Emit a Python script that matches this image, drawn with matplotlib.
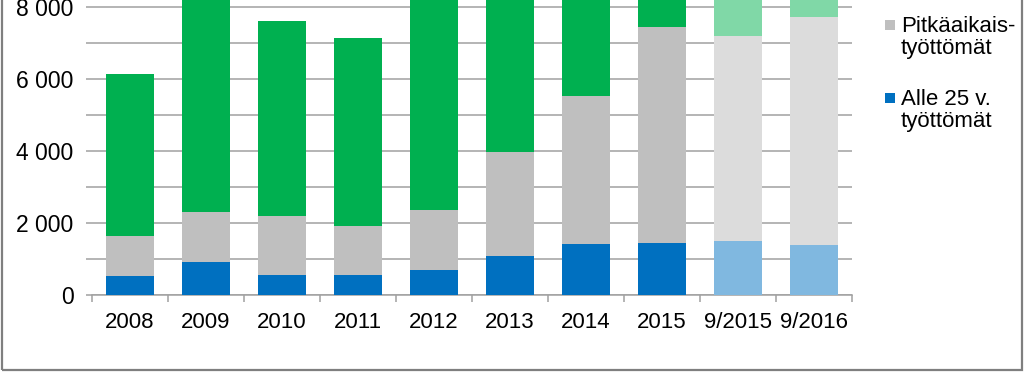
import matplotlib
matplotlib.use('Agg')
import matplotlib.pyplot as plt
from matplotlib.patches import Rectangle
from matplotlib.ticker import FuncFormatter, MultipleLocator
import numpy as np

# --- data (top of the chart is cropped) ---
categories = ['2008', '2009', '2010', '2011', '2012', '2013', '2014', '2015', '9/2015', '9/2016']
tyottomat = [6140, 9000, 7620, 7160, 8600, 10000, 11000, 11800, 10900, 10300]   # green, mostly cut off
pitkaaikais = [1660, 2320, 2190, 1930, 2360, 3970, 5550, 7450, 7200, 7730]
alle25 = [545, 935, 565, 570, 695, 1085, 1415, 1455, 1510, 1400]

# full colours for yearly values, light ones for the September figures
GREEN = ['#00B050'] * 8 + ['#80D8A7'] * 2
GRAY = ['#BFBFBF'] * 8 + ['#DCDCDC'] * 2
BLUE = ['#0070C0'] * 8 + ['#80B8E0'] * 2
GRID = '#A0A0A0'

plt.rcParams['font.family'] = ['Liberation Sans', 'DejaVu Sans']

fig = plt.figure(figsize=(10.24, 3.72), dpi=100)
ax = fig.add_axes([92 / 1024, 1 - 295.3 / 372, (852 - 92) / 1024, 295.3 / 372])

x = np.arange(len(categories))
w = 0.62
ax.bar(x, tyottomat, width=w, color=GREEN, zorder=2)
ax.bar(x, pitkaaikais, width=w, color=GRAY, zorder=3)
ax.bar(x, alle25, width=w, color=BLUE, zorder=4)

ax.set_xlim(-0.5, len(categories) - 0.5)
ax.set_ylim(0, 8203)

# y axis: labels every 2000, grid every 1000
ax.yaxis.set_major_locator(MultipleLocator(2000))
ax.yaxis.set_minor_locator(MultipleLocator(1000))
ax.yaxis.set_major_formatter(FuncFormatter(lambda v, p: f"{int(v):,}".replace(',', ' ')))
ax.grid(axis='y', which='both', color=GRID, linewidth=1.1, zorder=0)
ax.tick_params(axis='y', which='both', direction='out', length=4.3, width=1.1, color=GRID,
               labelsize=16.5, pad=9)
ax.tick_params(axis='y', which='minor', labelleft=False)

# x axis: labels at centres, tick marks between categories
ax.set_xticks(x)
ax.set_xticklabels(categories)
ax.set_xticks(np.arange(len(categories) + 1) - 0.5, minor=True)
ax.tick_params(axis='x', which='major', length=0, labelsize=16, pad=12)
ax.tick_params(axis='x', which='minor', direction='out', length=5, width=1.1, color=GRID)

for s in ['left', 'right', 'top']:
    ax.spines[s].set_visible(False)
ax.spines['bottom'].set_color(GRID)
ax.spines['bottom'].set_linewidth(1.1)
ax.set_axisbelow(True)

# legend drawn by hand so the square sits on the first text line
legend_items = [('Pitkäaikais-\ntyöttömät', GRAY[0], 20), ('Alle 25 v.\ntyöttömät', BLUE[0], 93)]
for label, col, ytop in legend_items:
    fig.patches.append(Rectangle((885 / 1024, 1 - (ytop + 10) / 372), 10 / 1024, 10 / 372,
                                 transform=fig.transFigure, facecolor=col, edgecolor='none'))
    fig.text(901 / 1024, 1 - (ytop - 4) / 372, label, fontsize=16, va='top', ha='left',
             linespacing=1.07)

# outer frame of the chart
fig.patches.append(Rectangle((2 / 1024, 2 / 372), 1020 / 1024, 1.2, transform=fig.transFigure,
                             facecolor='none', edgecolor='#7F7F7F', linewidth=1.6))

fig.savefig('out.png', dpi=100)
